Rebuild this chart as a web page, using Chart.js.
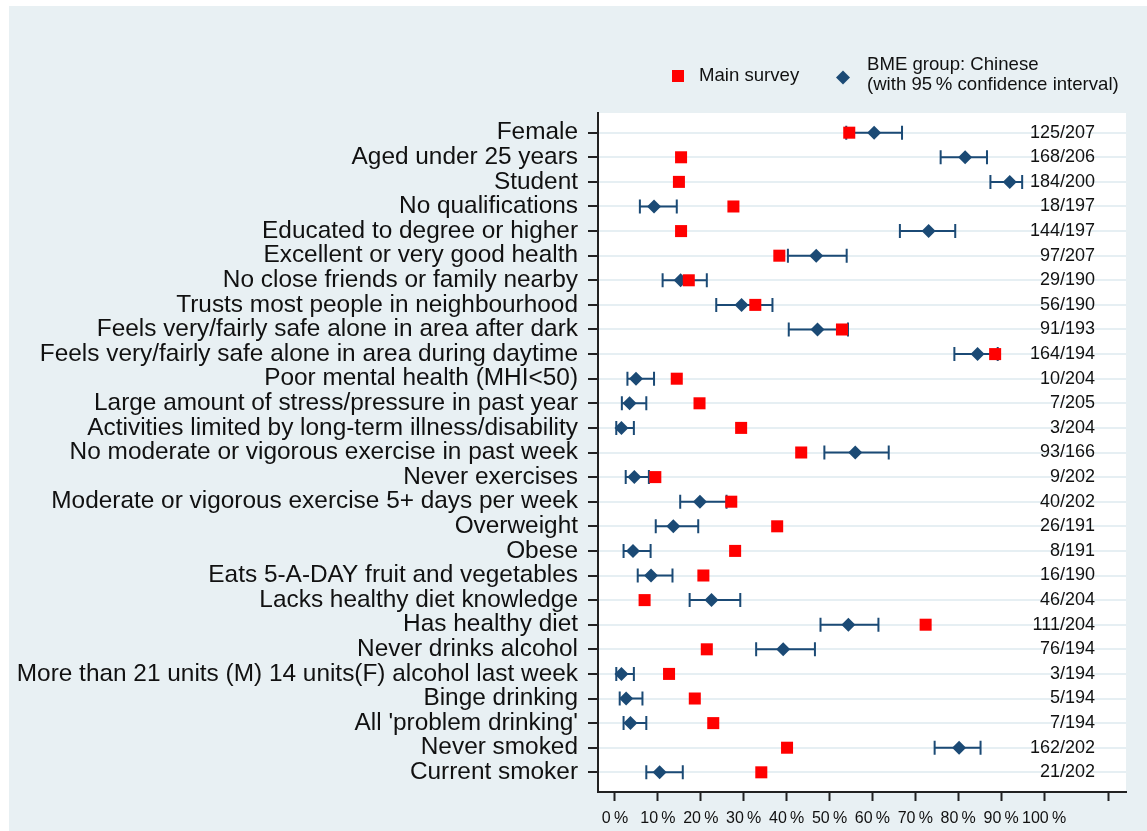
<!DOCTYPE html>
<html>
<head>
<meta charset="utf-8">
<script src="https://cdn.jsdelivr.net/npm/chart.js@4.4.1/dist/chart.umd.min.js"></script>
<style>
  html, body { margin: 0; padding: 0; background: #fff; }
  #wrap { position: absolute; left: 9px; top: 6px; width: 1138px; height: 825px; background: #e8f0f3; }
</style>
</head>
<body>
<div id="wrap"><canvas id="forest"></canvas></div>
<script>
const categories = [
  'Female', 'Aged under 25 years', 'Student', 'No qualifications',
  'Educated to degree or higher', 'Excellent or very good health',
  'No close friends or family nearby', 'Trusts most people in neighbourhood',
  'Feels very/fairly safe alone in area after dark',
  'Feels very/fairly safe alone in area during daytime',
  'Poor mental health (MHI<50)', 'Large amount of stress/pressure in past year',
  'Activities limited by long-term illness/disability',
  'No moderate or vigorous exercise in past week', 'Never exercises',
  'Moderate or vigorous exercise 5+ days per week', 'Overweight', 'Obese',
  'Eats 5-A-DAY fruit and vegetables', 'Lacks healthy diet knowledge',
  'Has healthy diet', 'Never drinks alcohol',
  'More than 21 units (M) 14 units(F) alcohol last week', 'Binge drinking',
  "All 'problem drinking'", 'Never smoked', 'Current smoker'
];

// percentages
const mainSurvey = [54.6, 15.4, 14.9, 27.6, 15.4, 38.3, 17.2, 32.7, 52.9, 88.6, 14.4, 19.7, 29.4, 43.4,
  9.4, 27.1, 37.8, 28.0, 20.6, 6.9, 72.4, 21.4, 12.6, 18.6, 22.9, 40.1, 34.1];
const chinese = [60.4, 81.6, 92.0, 9.1, 73.1, 46.9, 15.3, 29.5, 47.2, 84.5, 4.9, 3.4, 1.5, 56.0,
  4.5, 19.8, 13.6, 4.2, 8.4, 22.5, 54.4, 39.2, 1.5, 2.6, 3.6, 80.2, 10.4];
const ciLow = [53.9, 75.9, 87.5, 5.8, 66.4, 40.3, 11.1, 23.6, 40.5, 79.1, 2.9, 1.6, 0.3, 48.8,
  2.5, 15.2, 9.5, 2.0, 5.3, 17.4, 47.9, 32.9, 0.3, 1.1, 2.0, 74.5, 7.3];
const ciHigh = [66.9, 86.7, 94.9, 14.4, 79.3, 54.0, 21.4, 36.7, 54.3, 89.2, 9.1, 7.3, 4.4, 63.8,
  7.9, 26.0, 19.4, 8.3, 13.4, 29.2, 61.4, 46.6, 4.4, 6.4, 7.3, 85.2, 15.8];
const counts = ['125/207', '168/206', '184/200', '18/197', '144/197', '97/207', '29/190', '56/190',
  '91/193', '164/194', '10/204', '7/205', '3/204', '93/166', '9/202', '40/202', '26/191', '8/191',
  '16/190', '46/204', '111/204', '76/194', '3/194', '5/194', '7/194', '162/202', '21/202'];
const xTicks = [0, 10, 20, 30, 40, 50, 60, 70, 80, 90, 100, 115];

const RED = '#ff0000';
const NAVY = '#1b4a75';
const FONT = '"Liberation Sans", Arial, sans-serif';

const plotBg = {
  id: 'plotBg',
  beforeDraw(chart) {
    const a = chart.chartArea, ctx = chart.ctx;
    ctx.save();
    ctx.fillStyle = '#fff';
    ctx.fillRect(a.left, a.top, a.right - a.left, a.bottom - a.top);
    ctx.restore();
  }
};

const errorBars = {
  id: 'errorBars',
  beforeDatasetsDraw(chart) {
    const ctx = chart.ctx, xs = chart.scales.x, ys = chart.scales.y;
    ctx.save();
    ctx.strokeStyle = NAVY;
    ctx.lineWidth = 2;
    categories.forEach((c, i) => {
      const x1 = xs.getPixelForValue(ciLow[i]);
      const x2 = xs.getPixelForValue(ciHigh[i]);
      const y = ys.getPixelForValue(i);
      ctx.beginPath();
      ctx.moveTo(x1, y); ctx.lineTo(x2, y);
      ctx.moveTo(x1, y - 7); ctx.lineTo(x1, y + 7);
      ctx.moveTo(x2, y - 7); ctx.lineTo(x2, y + 7);
      ctx.stroke();
    });
    ctx.restore();
  }
};

const countLabels = {
  id: 'countLabels',
  afterDatasetsDraw(chart) {
    const ctx = chart.ctx, ys = chart.scales.y;
    ctx.save();
    ctx.fillStyle = '#111';
    ctx.font = '18px ' + FONT;
    ctx.textAlign = 'right';
    ctx.textBaseline = 'middle';
    counts.forEach((t, i) => ctx.fillText(t, chart.chartArea.right - 31, ys.getPixelForValue(i)));
    ctx.restore();
  }
};

const keyBox = {
  id: 'keyBox',
  afterDraw(chart) {
    const ctx = chart.ctx;
    ctx.save();
    ctx.fillStyle = RED;
    ctx.fillRect(663, 64, 12, 12);
    ctx.fillStyle = NAVY;
    ctx.beginPath();
    ctx.moveTo(834, 64.5); ctx.lineTo(841, 71.5); ctx.lineTo(834, 78.5); ctx.lineTo(827, 71.5);
    ctx.closePath();
    ctx.fill();
    ctx.fillStyle = '#111';
    ctx.font = '18.6px ' + FONT;
    ctx.textBaseline = 'middle';
    ctx.fillText('Main survey', 690, 70);
    ctx.fillText('BME group: Chinese', 858, 59);
    ctx.fillText('(with 95\u2009% confidence interval)', 858, 78.5);
    ctx.restore();
  }
};

new Chart(document.getElementById('forest'), {
  type: 'scatter',
  data: {
    datasets: [{
      label: 'Main survey',
      data: mainSurvey.map((v, i) => ({ x: v, y: i })),
      pointStyle: 'rect',
      pointRadius: 8.5,
      backgroundColor: RED,
      borderColor: RED,
      borderWidth: 0
    }, {
      label: 'BME group: Chinese (with 95% confidence interval)',
      data: chinese.map((v, i) => ({ x: v, y: i })),
      pointStyle: 'rectRot',
      pointRadius: 7,
      backgroundColor: NAVY,
      borderColor: NAVY,
      borderWidth: 0
    }]
  },
  options: {
    responsive: true,
    maintainAspectRatio: false,
    animation: false,
    events: [],
    layout: { padding: { top: 107, right: 21, left: 0, bottom: 0 } },
    plugins: { legend: { display: false }, tooltip: { enabled: false } },
    scales: {
      x: {
        type: 'linear',
        min: -3.96,
        max: 119.1,
        afterBuildTicks: s => { s.ticks = xTicks.map(v => ({ value: v })); },
        afterFit: s => { s.height = 39; },
        grid: { drawOnChartArea: false, tickLength: 9, tickColor: '#222', tickWidth: 2 },
        border: { color: '#222', width: 2 },
        ticks: {
          autoSkip: false, maxRotation: 0, padding: 8, color: '#111',
          font: { family: FONT, size: 16 },
          callback: v => (v <= 100 ? v + '\u2009%' : '')
        }
      },
      y: {
        type: 'linear',
        reverse: true,
        min: -0.8,
        max: 26.8,
        afterBuildTicks: s => { s.ticks = categories.map((c, i) => ({ value: i })); },
        afterFit: s => { s.width = 589; },
        grid: { color: '#e6eff3', lineWidth: 2, tickLength: 10, tickColor: '#222', tickWidth: 2 },
        border: { color: '#222', width: 2 },
        ticks: {
          autoSkip: false, padding: 10, color: '#111',
          font: { family: FONT, size: 24.4 },
          callback: v => categories[v]
        }
      }
    }
  },
  plugins: [plotBg, errorBars, countLabels, keyBox]
});
</script>
</body>
</html>
